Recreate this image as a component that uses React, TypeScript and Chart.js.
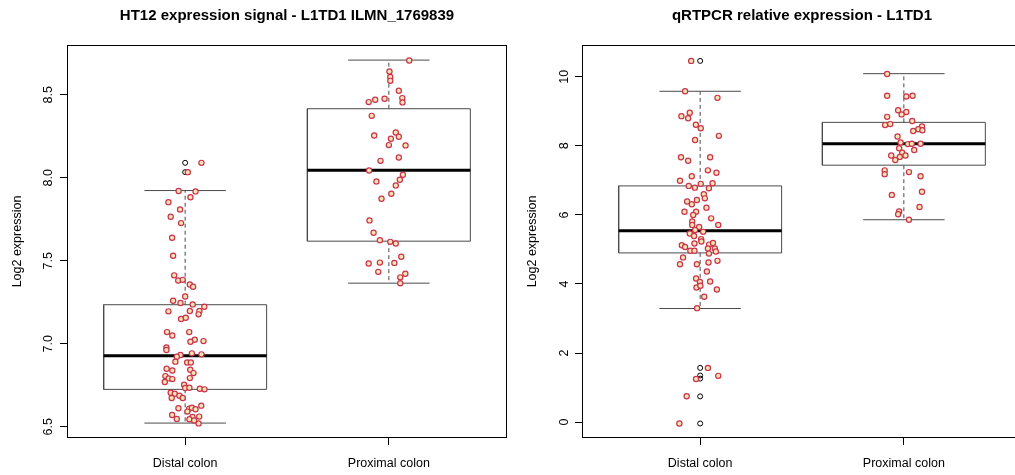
import React, { useEffect, useRef } from 'react';
import { Chart, registerables } from 'chart.js';

Chart.register(...registerables);

// ---------- data ----------
const groups = ['Distal colon', 'Proximal colon'];

const htTitle = 'HT12 expression signal - L1TD1 ILMN_1769839';
const pcrTitle = 'qRTPCR relative expression - L1TD1';
const yTitle = 'Log2 expression';

const htTicks = [6.5, 7.0, 7.5, 8.0, 8.5];
const htTickLabels = ['6.5', '7.0', '7.5', '8.0', '8.5'];
const pcrTicks = [0, 2, 4, 6, 8, 10];
const pcrTickLabels = ['0', '2', '4', '6', '8', '10'];

// box stats: [lower whisker, Q1, median, Q3, upper whisker]
const htDistalBox = [6.522, 6.725, 6.928, 7.235, 7.923];
const htProximalBox = [7.365, 7.618, 8.046, 8.416, 8.709];
const pcrDistalBox = [3.29, 4.9, 5.54, 6.84, 9.58];
const pcrProximalBox = [5.86, 7.44, 8.06, 8.68, 10.09];

const htDistalOutliers = [8.09, 8.034];
const htProximalOutliers: number[] = [];
const pcrDistalOutliers = [10.46, 1.57, 1.35, 1.26, 0.745, -0.04];
const pcrProximalOutliers: number[] = [];

// jittered points: values and horizontal jitter (category units)
const htDistalValues = [
  8.09, 8.034, 7.92, 7.918, 7.883, 7.853, 7.809, 7.765, 7.727, 7.639,
  7.53, 7.412, 7.381, 7.385, 7.357, 7.343, 7.285, 7.259, 7.245, 7.237,
  7.223, 7.195, 7.197, 7.197, 7.177, 7.149, 7.157, 7.07, 7.05, 7.07,
  7.024, 7.012, 7.016, 6.978, 6.962, 6.932, 6.922, 6.942, 6.936, 6.892,
  6.887, 6.887, 6.849, 6.839, 6.843, 6.823, 6.805, 6.791, 6.787, 6.793,
  6.769, 6.753, 6.733, 6.735, 6.729, 6.725, 6.705, 6.699, 6.687, 6.673,
  6.673, 6.611, 6.609, 6.615, 6.605, 6.627, 6.591, 6.571, 6.559, 6.561,
  6.547, 6.545, 6.537, 6.52,
];
const htDistalJitter = [
  0.08, 0.013, -0.032, 0.051, 0.026, -0.082, -0.025, -0.071, -0.02, -0.064,
  -0.059, -0.054, -0.034, -0.012, 0.023, 0.039, 0.0, -0.059, -0.023, 0.037,
  0.094, -0.082, 0.023, 0.07, 0.066, -0.02, 0.003, -0.089, -0.063, 0.02,
  0.047, 0.026, 0.09, -0.092, -0.092, -0.023, -0.041, 0.033, 0.08, -0.048,
  0.01, 0.028, -0.091, -0.063, 0.025, 0.041, -0.097, -0.081, -0.063, 0.023,
  -0.1, -0.005, 0.0, 0.021, 0.072, 0.095, -0.071, -0.051, -0.028, -0.066,
  -0.012, -0.033, 0.02, 0.033, 0.051, 0.079, 0.011, -0.064, 0.036, 0.069,
  -0.041, 0.021, 0.044, 0.066,
];

const htProximalValues = [
  8.707, 8.64, 8.607, 8.584, 8.524, 8.48, 8.454, 8.476, 8.47, 8.456,
  8.373, 8.273, 8.247, 8.255, 8.235, 8.197, 8.195, 8.122, 8.102, 8.044,
  8.018, 7.988, 7.978, 7.954, 7.904, 7.874, 7.743, 7.669, 7.624, 7.614,
  7.604, 7.524, 7.483, 7.489, 7.487, 7.433, 7.422, 7.4, 7.364,
];
const htProximalJitter = [
  0.1, 0.003, 0.007, 0.007, 0.049, 0.066, 0.067, -0.021, -0.067, -0.099,
  -0.084, 0.034, 0.049, -0.072, 0.01, 0.0, 0.082, 0.049, -0.041, -0.097,
  0.069, 0.054, -0.061, 0.034, 0.012, -0.036, -0.095, -0.075, -0.044, 0.007,
  0.034, 0.061, -0.099, -0.044, 0.027, -0.052, 0.081, 0.056, 0.056,
];

const pcrDistalValues = [
  10.46, 9.58, 9.39, 8.96, 8.86, 8.8, 8.61, 8.51, 8.29, 8.17,
  7.67, 7.57, 7.67, 7.29, 7.22, 7.12, 6.99, 6.9, 6.92, 6.84,
  6.79, 6.77, 6.6, 6.48, 6.39, 6.43, 6.31, 6.21, 6.09, 6.09,
  6.0, 5.9, 5.81, 5.71, 5.71, 5.65, 5.56, 5.46, 5.51, 5.39,
  5.3, 5.12, 5.07, 5.17, 5.23, 5.14, 5.19, 4.96, 4.96, 5.03,
  5.03, 4.94, 4.88, 4.77, 4.57, 4.57, 4.62, 4.67, 4.36, 4.16,
  4.06, 4.07, 3.9, 3.95, 3.84, 3.63, 3.3, 1.57, 1.25, 1.34,
  0.75, -0.04,
];
const pcrDistalJitter = [
  -0.044, -0.074, 0.085, -0.051, -0.092, -0.059, -0.021, 0.003, 0.092, -0.025,
  -0.094, -0.059, 0.049, 0.038, 0.08, -0.041, -0.099, 0.003, 0.061, -0.056,
  -0.026, 0.043, 0.018, 0.023, -0.064, -0.016, -0.041, 0.031, -0.077, -0.02,
  -0.034, 0.054, -0.039, -0.039, 0.089, -0.005, -0.025, -0.051, 0.015, -0.03,
  0.005, -0.09, -0.074, -0.028, 0.006, 0.044, 0.063, -0.048, -0.028, 0.038,
  0.072, 0.077, 0.043, -0.084, -0.099, -0.016, 0.041, 0.085, 0.033, -0.02,
  -0.001, 0.049, -0.018, 0.001, 0.082, 0.02, -0.015, 0.038, -0.02, 0.089,
  -0.066, -0.102,
];

const pcrProximalValues = [
  10.08, 9.45, 9.43, 9.45, 9.03, 8.98, 8.91, 8.84, 8.72, 8.6,
  8.63, 8.56, 8.48, 8.45, 8.43, 8.27, 8.1, 8.05, 8.06, 8.06,
  7.93, 7.88, 7.8, 7.72, 7.68, 7.72, 7.59, 7.29, 7.18, 7.24,
  7.12, 6.67, 6.58, 6.23, 6.1, 6.02, 5.86,
];
const pcrProximalJitter = [
  -0.082, -0.082, 0.012, 0.043, -0.028, 0.012, -0.011, -0.082, 0.041, -0.092,
  -0.067, 0.089, 0.071, 0.091, 0.046, -0.031, -0.016, 0.02, 0.039, 0.082,
  -0.023, 0.051, -0.008, -0.062, -0.02, 0.008, -0.042, -0.094, -0.094, 0.025,
  0.082, 0.089, -0.059, 0.077, -0.023, -0.028, 0.025,
];

// ---------- styles ----------
const FONT = "'Liberation Sans', Arial, Helvetica, sans-serif";
const AXIS_FONT_SIZE = 12.5;
const BOX_HALF = 0.4;
const CAP_HALF = 0.2;
const POINT_STROKE = '#C8324F';
const POINT_FILL = '#F8E4B0';
const BOX_COLOR = '#4a4a4a';

Chart.defaults.font.family = FONT;

const framePlugin = {
  id: 'frame',
  afterDraw(chart: any) {
    const { ctx, chartArea: a } = chart;
    ctx.save();
    ctx.strokeStyle = '#000';
    ctx.lineWidth = 1;
    ctx.strokeRect(a.left + 0.5, a.top + 0.5, a.right - a.left - 1, a.bottom - a.top - 1);
    ctx.restore();
  },
};

type PanelSpec = {
  title: string;
  min: number;
  max: number;
  ticks: number[];
  tickLabels: string[];
  tickPad: number;
  boxes: number[][];
  outliers: number[][];
  values: number[][];
  jitter: number[][];
};

function buildConfig(p: PanelSpec): any {
  const rect: any[] = [];
  const med: any[] = [];
  const whisk: any[] = [];
  const caps: any[] = [];
  const outl: any[] = [];
  const pts: any[] = [];
  p.boxes.forEach((b, i) => {
    const c = i + 1;
    const [lo, q1, md, q3, hi] = b;
    rect.push(
      { x: c - BOX_HALF, y: q1 }, { x: c + BOX_HALF, y: q1 },
      { x: c + BOX_HALF, y: q3 }, { x: c - BOX_HALF, y: q3 },
      { x: c - BOX_HALF, y: q1 }, { x: c, y: null },
    );
    med.push({ x: c - BOX_HALF, y: md }, { x: c + BOX_HALF, y: md }, { x: c, y: null });
    whisk.push({ x: c, y: q3 }, { x: c, y: hi }, { x: c, y: null }, { x: c, y: q1 }, { x: c, y: lo }, { x: c, y: null });
    caps.push(
      { x: c - CAP_HALF, y: hi }, { x: c + CAP_HALF, y: hi }, { x: c, y: null },
      { x: c - CAP_HALF, y: lo }, { x: c + CAP_HALF, y: lo }, { x: c, y: null },
    );
    p.outliers[i].forEach((v) => outl.push({ x: c, y: v }));
    p.values[i].forEach((v, k) => pts.push({ x: c + p.jitter[i][k], y: v }));
  });

  const lineBase = { type: 'line', pointRadius: 0, fill: false, spanGaps: false, tension: 0 };

  return {
    type: 'scatter',
    data: {
      datasets: [
        { ...lineBase, data: rect, borderColor: BOX_COLOR, borderWidth: 1, order: 6 },
        { ...lineBase, data: whisk, borderColor: BOX_COLOR, borderWidth: 1, borderDash: [4, 3], order: 5 },
        { ...lineBase, data: caps, borderColor: BOX_COLOR, borderWidth: 1, order: 4 },
        { ...lineBase, data: med, borderColor: '#000', borderWidth: 3, borderCapStyle: 'butt', order: 3 },
        {
          type: 'scatter', data: outl, pointRadius: 2.5, borderWidth: 1,
          borderColor: '#000', backgroundColor: 'rgba(0,0,0,0)', order: 2,
        },
        {
          type: 'scatter', data: pts, pointRadius: 2.6, borderWidth: 1.2,
          borderColor: POINT_STROKE, backgroundColor: POINT_FILL, order: 1,
        },
      ],
    },
    options: {
      responsive: false,
      animation: false,
      events: [],
      layout: { autoPadding: false, padding: { left: 0, right: 3, top: 0, bottom: 0 } },
      plugins: {
        legend: { display: false },
        tooltip: { enabled: false },
        title: {
          display: true,
          text: p.title,
          fullSize: false,
          color: '#000',
          font: { size: 15, weight: 'bold', family: FONT },
          padding: { top: 6.5, bottom: 20.5 },
        },
      },
      scales: {
        x: {
          type: 'linear',
          min: 0.42,
          max: 2.58,
          afterBuildTicks: (s: any) => {
            s.ticks = groups.map((_, i) => ({ value: i + 1 }));
          },
          afterFit: (s: any) => {
            s.height = 37;
          },
          ticks: {
            callback: (_v: any, i: number) => groups[i],
            color: '#000',
            font: { size: AXIS_FONT_SIZE, family: FONT },
            padding: 10.8,
            maxRotation: 0,
            autoSkip: false,
          },
          grid: { drawOnChartArea: false, drawTicks: true, tickLength: 7, color: '#000', lineWidth: 1 },
          border: { display: false },
        },
        y: {
          type: 'linear',
          min: p.min,
          max: p.max,
          afterBuildTicks: (s: any) => {
            s.ticks = p.ticks.map((v) => ({ value: v }));
          },
          afterFit: (s: any) => {
            s.width = 67;
          },
          ticks: {
            callback: (_v: any, i: number) => p.tickLabels[i],
            color: '#000',
            font: { size: AXIS_FONT_SIZE, family: FONT },
            minRotation: 90,
            maxRotation: 90,
            crossAlign: 'center',
            padding: p.tickPad,
            autoSkip: false,
          },
          grid: { drawOnChartArea: false, drawTicks: true, tickLength: 7, color: '#000', lineWidth: 1 },
          border: { display: false },
          title: {
            display: true,
            text: yTitle,
            color: '#000',
            font: { size: AXIS_FONT_SIZE, family: FONT },
            padding: { top: 10.5, bottom: 0 },
          },
        },
      },
    },
    plugins: [framePlugin],
  };
}

const htSpec: PanelSpec = {
  title: htTitle,
  min: 6.432,
  max: 8.8,
  ticks: htTicks,
  tickLabels: htTickLabels,
  tickPad: 2.5,
  boxes: [htDistalBox, htProximalBox],
  outliers: [htDistalOutliers, htProximalOutliers],
  values: [htDistalValues, htProximalValues],
  jitter: [htDistalJitter, htProximalJitter],
};

const pcrSpec: PanelSpec = {
  title: pcrTitle,
  min: -0.46,
  max: 10.92,
  ticks: pcrTicks,
  tickLabels: pcrTickLabels,
  tickPad: 4,
  boxes: [pcrDistalBox, pcrProximalBox],
  outliers: [pcrDistalOutliers, pcrProximalOutliers],
  values: [pcrDistalValues, pcrProximalValues],
  jitter: [pcrDistalJitter, pcrProximalJitter],
};

function Panel({ spec, left }: { spec: PanelSpec; left: number }) {
  const ref = useRef<HTMLCanvasElement>(null);
  useEffect(() => {
    if (!ref.current) return;
    const chart = new Chart(ref.current, buildConfig(spec));
    return () => chart.destroy();
  }, [spec]);
  return (
    <canvas
      ref={ref}
      width={510}
      height={475}
      style={{ position: 'absolute', left, top: 0, width: 510, height: 475 }}
    />
  );
}

export default function App() {
  return (
    <div
      style={{
        position: 'absolute',
        left: 0,
        top: 0,
        width: 1015,
        height: 475,
        overflow: 'hidden',
        background: '#fff',
      }}
    >
      <Panel spec={htSpec} left={0} />
      <Panel spec={pcrSpec} left={515} />
    </div>
  );
}
